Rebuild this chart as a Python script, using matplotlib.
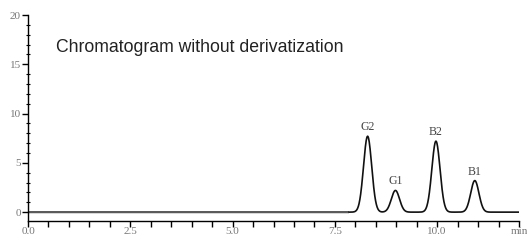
import numpy as np
import matplotlib
matplotlib.use("Agg")
import matplotlib.pyplot as plt
from matplotlib.ticker import MultipleLocator

# Peak data
peak_names = ["G2", "G1", "B2", "B1"]
peak_times = [8.30, 8.98, 9.97, 10.92]      # min
peak_heights = [7.7, 2.2, 7.2, 3.2]
peak_sigmas = [0.10, 0.10, 0.10, 0.10]

x_ticks = [0.0, 2.5, 5.0, 7.5, 10.0]
x_tick_labels = ["0.0", "2.5", "5.0", "7.5", "10.0"]
y_ticks = [0, 5, 10, 15, 20]
title_text = "Chromatogram without derivatization"

t = np.linspace(0, 12, 2401)
signal = np.zeros_like(t)
for tr, h, s in zip(peak_times, peak_heights, peak_sigmas):
    signal += h * np.exp(-0.5 * ((t - tr) / s) ** 2)

fig = plt.figure(figsize=(5.27, 2.40), dpi=100)
ax = fig.add_axes([28/527, 19/240, (519-28)/527, (222-16)/240])

split = 7.85
m1 = t <= split
m2 = t >= split
ax.plot(t[m1], signal[m1], color="#5a5a5a", lw=1.6, solid_capstyle="butt")
ax.plot(t[m2], signal[m2], color="#111111", lw=1.2)

for name, tr, h in zip(peak_names, peak_times, peak_heights):
    ax.text(tr, h + 0.3, name, ha="center", va="bottom", fontsize=8.5,
            family="Liberation Serif", color="#444444")

ax.set_xlim(0, 12.0)
ax.set_ylim(-0.9, 20)

for sp in ["top", "right"]:
    ax.spines[sp].set_visible(False)
ax.spines["left"].set_bounds(-0.9, 20)
ax.spines["left"].set_linewidth(1.0)
ax.spines["bottom"].set_linewidth(1.0)

ax.set_xticks(np.arange(0, 12.01, 0.5), minor=True)
ax.set_xticks(x_ticks + [12.0])
ax.set_xticklabels(x_tick_labels + ["min"])
ax.set_yticks(y_ticks)
ax.yaxis.set_minor_locator(MultipleLocator(1))

ax.tick_params(axis="x", which="both", direction="out", length=4, width=1.0,
               labelsize=8, labelcolor="#777777", pad=0.5)
ax.tick_params(axis="y", which="major", direction="out", length=4, width=1.0,
               labelsize=8, labelcolor="#777777", pad=1)
ax.tick_params(axis="y", which="minor", direction="inout", length=3, width=0.8)
for lab in ax.get_xticklabels() + ax.get_yticklabels():
    lab.set_family("Liberation Serif")

fig.text(56/527, 1 - 47/240, title_text, fontsize=12.7, family="Liberation Sans",
         va="center", ha="left", color="#222222")

fig.savefig("out.png", dpi=100)
